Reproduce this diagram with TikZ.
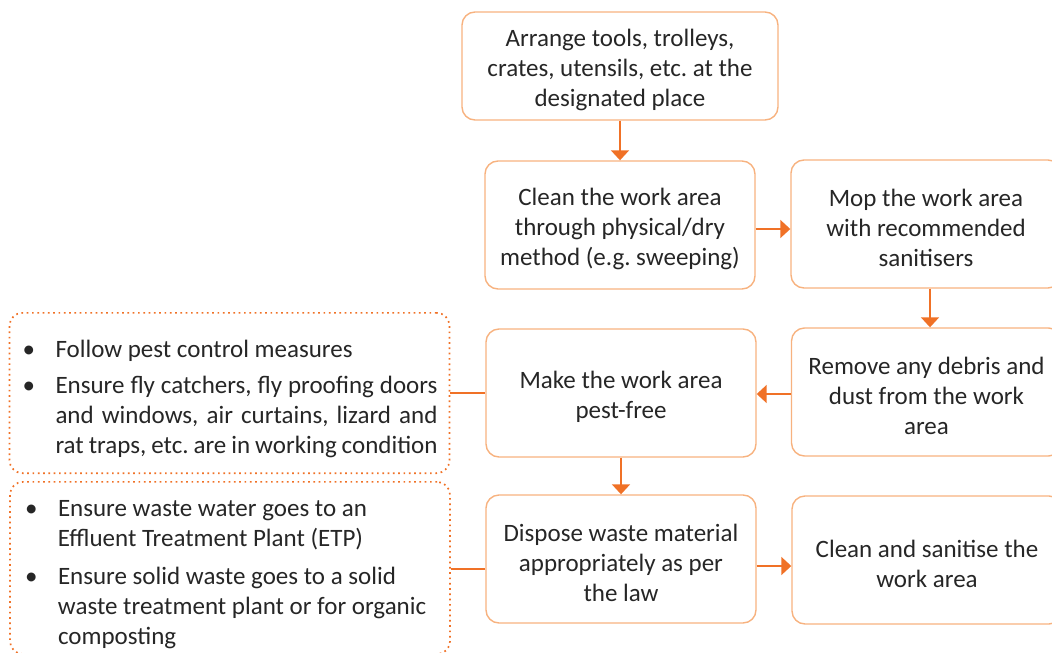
\documentclass[tikz,border=0pt]{standalone}
\usepackage{fontspec}
\setmainfont{Carlito}
\usepackage{enumitem}
\usetikzlibrary{arrows.meta}
\definecolor{boxc}{HTML}{F7B27F}
\definecolor{arrc}{HTML}{F07126}
\definecolor{txt}{HTML}{262626}
\frenchspacing
\begin{document}
\begin{tikzpicture}[x=1pt,y=-1pt,
  stepbox/.style={draw=boxc, line width=1.4pt, rounded corners=13pt, align=flush center,
    font=\fontsize{25}{30}\selectfont\frenchspacing, text=txt, inner sep=0pt,
    text width=262pt, execute at begin node={\rule{0pt}{25pt}},
    minimum width=270pt, minimum height=128pt},
  notebox/.style={draw=arrc, line width=1.7pt, dash pattern=on 1.7pt off 3.6pt,
    rounded corners=13pt,
    font=\fontsize{25}{30}\selectfont\frenchspacing, text=txt, inner xsep=12pt, inner ysep=15pt,
    text width=416pt, minimum width=440pt},
  flow/.style={draw=arrc, line width=1.8pt, -{Triangle[width=18pt,length=10pt]}},
  link/.style={draw=arrc, line width=1.6pt}]
\useasboundingbox (0,0) rectangle (1052,653);
\clip (0,0) rectangle (1052,653);

\node[stepbox, text width=308pt, minimum width=316pt, minimum height=108pt] (arrange) at (620,66)
  {Arrange tools, trolleys,\\crates, utensils, etc. at the\\designated place};
\node[stepbox] (clean) at (620,225)
  {Clean the work area\\through physical/dry\\method (e.g. sweeping)};
\node[stepbox] (mop) at (926,224)
  {Mop the work area\\with recommended\\sanitisers};
\node[stepbox] (remove) at (926.5,392)
  {Remove any debris and\\dust from the work\\area};
\node[stepbox] (pest) at (621,393)
  {Make the work area\\pest-free};
\node[stepbox] (dispose) at (621,559)
  {Dispose waste material\\appropriately as per\\the law};
\node[stepbox] (sanitise) at (927,560)
  {Clean and sanitise the\\work area};

\node[notebox, minimum height=146pt, align=justify] (pestnote) at (229.5,393)
  {\begin{itemize}[leftmargin=34pt, labelsep=0pt, labelwidth=34pt, align=left,
      label=\hspace{1pt}\textbullet, topsep=0pt, partopsep=0pt, itemsep=6pt, parsep=0pt]
   \item Follow pest control measures
   \item Ensure fly catchers, fly proofing doors\linebreak
     and windows, air curtains, lizard and\linebreak
     rat traps, etc. are in working condition
   \end{itemize}};
\node[notebox, anchor=north, align=flush left, inner ysep=5pt] (wastenote) at (230,481)
  {\begin{itemize}[leftmargin=36pt, labelsep=0pt, labelwidth=36pt, align=left,
      label=\hspace{3pt}\textbullet, topsep=0pt, partopsep=0pt, itemsep=8pt, parsep=0pt]
   \item Ensure waste water goes to an\newline
     Effluent Treatment Plant (ETP)
   \item Ensure solid waste goes to a solid\newline
     waste treatment plant or for organic\newline
     composting
   \end{itemize}};

\draw[flow] (arrange.south) -- (arrange.south |- clean.north);
\draw[flow] ([yshift=-4pt]clean.east) -- ([yshift=-4pt]clean.east -| mop.west);
\draw[flow] (mop.south -| 930,0) -- (remove.north -| 930,0);
\draw[flow] ([yshift=-2pt]remove.west) -- ([yshift=-2pt]remove.west -| pest.east);
\draw[flow] (pest.south) -- (pest.south |- dispose.north);
\draw[flow] ([yshift=-7pt]dispose.east) -- ([yshift=-7pt]dispose.east -| sanitise.west);
\draw[link] (pestnote.east) -- (pestnote.east -| pest.west);
\draw[link] ([yshift=-10pt]dispose.west) -- ([yshift=-10pt]dispose.west -| wastenote.east);
\end{tikzpicture}
\end{document}
